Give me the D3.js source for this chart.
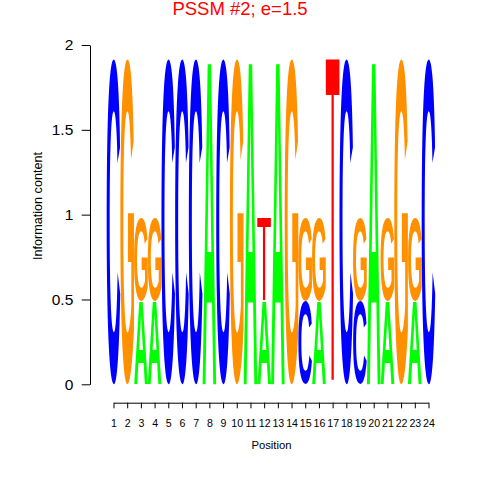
<!DOCTYPE html>
<html>
<head>
<meta charset="utf-8">
<script src="https://cdn.jsdelivr.net/npm/d3@7"></script>
<style>
  html, body { margin: 0; padding: 0; background: #fff; }
  svg { display: block; }
</style>
</head>
<body>
<svg id="chart" width="480" height="480"></svg>
<script>
// ---- data ----
const positions = [1,2,3,4,5,6,7,8,9,10,11,12,13,14,15,16,17,18,19,20,21,22,23,24];
// bottom letter of each stack and its height (bits)
const bottomLetter = ["C","G","A","A","C","C","C","A","C","G","A","A","A","G","C","A","T","C","C","A","A","G","A","C"];
const bottomHeight = [1.92,1.92,0.49,0.49,1.92,1.92,1.92,1.92,1.92,1.92,1.92,0.49,1.92,1.92,0.49,0.49,1.92,1.92,0.49,1.92,0.49,1.92,0.49,1.92];
// letter stacked on top (empty when none) and its height
const topLetter = ["","","G","G","","","","","","","","T","","","G","G","","","G","","G","","G",""];
const topHeight = [0,0,0.49,0.49,0,0,0,0,0,0,0,0.49,0,0,0.49,0.49,0,0,0.49,0,0.49,0,0.49,0];
const yTicks = [0, 0.5, 1, 1.5, 2];
const yTickLabels = ["0", "0.5", "1", "1.5", "2"];
const letterColors = { A: "#00FF00", C: "#0000FF", G: "#FF9000", T: "#FF0000" };
const letterWeights = { A: "bold", C: "bold", G: "bold", T: "normal" };
const titleText = "PSSM #2; e=1.5";

// ---- scales ----
const svg = d3.select("#chart");
const x = d3.scaleLinear().domain([1, 24]).range([113.5, 428.5]);
const y = d3.scaleLinear().domain([0, 2]).range([384.3, 45]);
const colW = x(2) - x(1);

// build stacked segments
const segs = [];
positions.forEach((p, i) => {
  segs.push({ pos: p, letter: bottomLetter[i], y0: 0, y1: bottomHeight[i] });
  if (topLetter[i]) segs.push({ pos: p, letter: topLetter[i], y0: bottomHeight[i], y1: bottomHeight[i] + topHeight[i] });
});

// glyph ink metrics
const FONT_FAMILY = "'Liberation Sans', Arial, sans-serif";
const FS = 100;
const ctx = document.createElement("canvas").getContext("2d");
const metrics = {};
["A","C","G","T"].forEach(L => {
  ctx.font = `${letterWeights[L]} ${FS}px ${FONT_FAMILY}`;
  const m = ctx.measureText(L);
  metrics[L] = { left: -m.actualBoundingBoxLeft, right: m.actualBoundingBoxRight,
                 asc: m.actualBoundingBoxAscent, desc: m.actualBoundingBoxDescent };
});

const gLetters = svg.append("g");
segs.forEach(s => {
  const m = metrics[s.letter];
  const inkW = m.right - m.left, inkH = m.asc + m.desc;
  const x0 = x(s.pos) - colW / 2;
  const top = y(s.y1), bot = y(s.y0);
  const sx = colW / inkW, sy = (bot - top) / inkH;
  gLetters.append("text")
    .attr("transform", `translate(${x0},${top}) scale(${sx},${sy}) translate(${-m.left},${m.asc})`)
    .attr("font-family", FONT_FAMILY)
    .attr("font-weight", letterWeights[s.letter])
    .attr("font-size", FS)
    .attr("fill", letterColors[s.letter])
    .text(s.letter);
});

// ---- axes ----
const yAxis = d3.axisLeft(y).tickValues(yTicks).tickFormat((d, i) => yTickLabels[i])
  .tickSizeInner(8.3).tickSizeOuter(0).tickPadding(8.4);
const gy = svg.append("g").attr("transform", "translate(90,0)").call(yAxis);
gy.selectAll("text").attr("font-family", FONT_FAMILY).attr("font-size", 15.5).attr("fill", "#000");
gy.selectAll("line,path").attr("stroke", "#000");

const xAxis = d3.axisBottom(x).tickValues(positions).tickFormat(d => String(d))
  .tickSizeInner(5.6).tickSizeOuter(0).tickPadding(11);
const gx = svg.append("g").attr("transform", "translate(0,402.7)").call(xAxis);
gx.selectAll("text").attr("font-family", FONT_FAMILY).attr("font-size", 10.6).attr("fill", "#000");
gx.selectAll("line,path").attr("stroke", "#000");

// ---- titles ----
svg.append("text").attr("x", 240).attr("y", 15).attr("text-anchor", "middle")
  .attr("font-family", FONT_FAMILY).attr("font-size", 18.5)
  .attr("fill", "#FF0000").text(titleText);

svg.append("text").attr("transform", "translate(42,206) rotate(-90)").attr("text-anchor", "middle")
  .attr("font-family", FONT_FAMILY).attr("font-size", 12.6)
  .attr("fill", "#000").text("Information content");

svg.append("text").attr("x", 271.5).attr("y", 449).attr("text-anchor", "middle")
  .attr("font-family", FONT_FAMILY).attr("font-size", 11.3)
  .attr("fill", "#000").text("Position");
</script>
</body>
</html>
